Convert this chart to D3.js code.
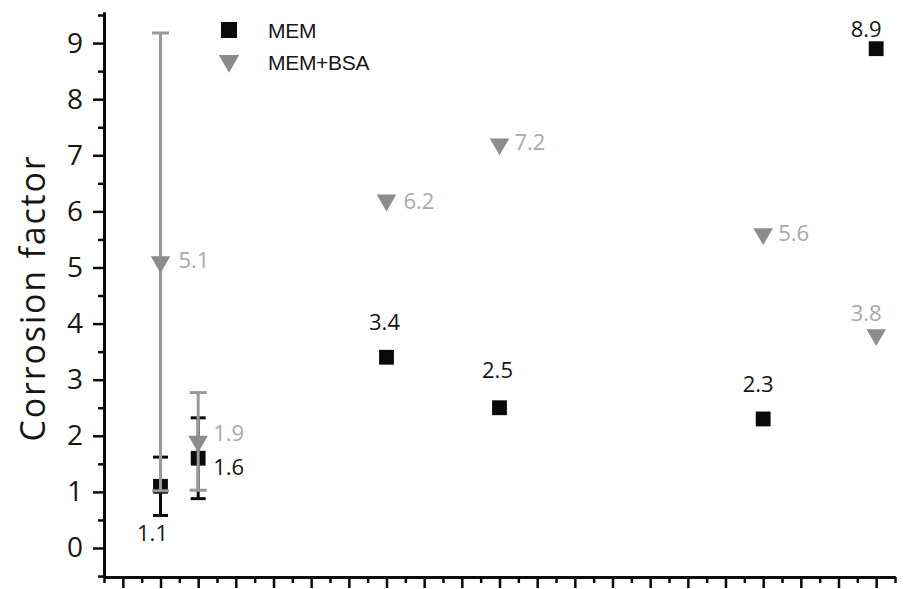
<!DOCTYPE html>
<html>
<head>
<meta charset="utf-8">
<script src="https://cdn.jsdelivr.net/npm/d3@7"></script>
<style>
  html, body { margin: 0; padding: 0; background: #fff; }
  svg { display: block; }
</style>
</head>
<body>
<svg id="chart" width="911" height="589"></svg>
<script>
// Sample positions along the (unlabelled) x axis
const xPositions = [1, 2, 7, 10, 17, 20];

// Corrosion factor per sample
const memValues = [1.1, 1.6, 3.4, 2.5, 2.3, 8.9];
const memErrors = [0.52, 0.72, 0, 0, 0, 0];
const bsaValues = [5.1, 1.9, 6.2, 7.2, 5.6, 3.8];
const bsaErrors = [4.08, 0.87, 0, 0, 0, 0];

const yTickValues = [0, 1, 2, 3, 4, 5, 6, 7, 8, 9];
const seriesNames = ["MEM", "MEM+BSA"];
const yTitle = "Corrosion factor";

// Value-label placement (anchor + offset of the text centre from its marker, px)
const memLabelLayout = [
  { anchor: "middle", dx: -8, dy: 46 },
  { anchor: "start", dx: 15, dy: 8 },
  { anchor: "middle", dx: -2, dy: -36 },
  { anchor: "middle", dx: -2, dy: -39 },
  { anchor: "middle", dx: -5, dy: -36 },
  { anchor: "middle", dx: -10, dy: -21 }
];
const bsaLabelLayout = [
  { anchor: "start", dx: 18, dy: -3 },
  { anchor: "start", dx: 15, dy: -9 },
  { anchor: "start", dx: 17, dy: 0 },
  { anchor: "start", dx: 15, dy: -3 },
  { anchor: "start", dx: 15, dy: -2 },
  { anchor: "middle", dx: -10, dy: -23 }
];

const svg = d3.select("#chart");
const plotLeft = 104, plotRight = 895, plotTop = 12, plotBottom = 577;

const x = d3.scaleLinear().domain([-0.5, 20.5]).range([plotLeft, plotRight]);
const y = d3.scaleLinear().domain([-0.517, 9.554]).range([plotBottom, plotTop]);

const black = "#0a0a0a";
const grey = "#8c8c8c";
const greyLine = "#9a9a9a";
const greyText = "#a9a9a9";
const darkText = "#161616";

// ---- axes ----
const xMajor = d3.range(0, 21, 1);
const xMinor = d3.range(-0.5, 20.6, 1);
const yMinor = d3.range(-0.5, 9.6, 1);

function styleAxis(g) {
  g.select(".domain").attr("stroke", black).attr("stroke-width", 3);
  g.selectAll(".tick line").attr("stroke", black).attr("stroke-width", 2.5);
}

svg.append("g")
  .attr("transform", `translate(0,${plotBottom})`)
  .call(d3.axisBottom(x).tickValues(xMinor).tickSize(6).tickSizeOuter(0).tickFormat(""))
  .call(styleAxis);
svg.append("g")
  .attr("transform", `translate(0,${plotBottom})`)
  .call(d3.axisBottom(x).tickValues(xMajor).tickSize(11).tickSizeOuter(0).tickFormat(""))
  .call(styleAxis);

svg.append("g")
  .attr("transform", `translate(${plotLeft},0)`)
  .call(d3.axisLeft(y).tickValues(yMinor).tickSize(6).tickSizeOuter(0).tickFormat(""))
  .call(styleAxis);
const yAxis = svg.append("g")
  .attr("transform", `translate(${plotLeft},0)`)
  .call(d3.axisLeft(y).tickValues(yTickValues).tickSize(11).tickSizeOuter(0).tickPadding(10).tickFormat(d3.format("d")))
  .call(styleAxis);
yAxis.selectAll(".tick text")
  .attr("font-family", "'Open Sans', sans-serif")
  .attr("font-size", 28)
  .attr("fill", darkText);

svg.append("text")
  .attr("transform", `translate(45,298) rotate(-90)`)
  .attr("text-anchor", "middle")
  .attr("font-family", "'Open Sans', sans-serif")
  .attr("font-size", 34)
  .attr("letter-spacing", 1.8)
  .attr("fill", darkText)
  .text(yTitle);

// ---- series ----
const memData = xPositions.map((d, i) => ({ x: d, v: memValues[i], e: memErrors[i], lay: memLabelLayout[i] }));
const bsaData = xPositions.map((d, i) => ({ x: d, v: bsaValues[i], e: bsaErrors[i], lay: bsaLabelLayout[i] }));

function errorBars(data, color, capW) {
  const g = svg.append("g").attr("stroke", color).attr("stroke-width", 3);
  const withErr = data.filter(d => d.e > 0);
  g.selectAll(".stem").data(withErr).join("line")
    .attr("x1", d => x(d.x)).attr("x2", d => x(d.x))
    .attr("y1", d => y(d.v - d.e)).attr("y2", d => y(d.v + d.e));
  g.selectAll(".capTop").data(withErr).join("line")
    .attr("x1", d => x(d.x) - capW / 2).attr("x2", d => x(d.x) + capW / 2)
    .attr("y1", d => y(d.v + d.e)).attr("y2", d => y(d.v + d.e));
  g.selectAll(".capBot").data(withErr).join("line")
    .attr("x1", d => x(d.x) - capW / 2).attr("x2", d => x(d.x) + capW / 2)
    .attr("y1", d => y(d.v - d.e)).attr("y2", d => y(d.v - d.e));
}

function labels(data, color) {
  svg.append("g").selectAll("text").data(data).join("text")
    .attr("font-family", "'Open Sans', sans-serif")
    .attr("font-size", 22)
    .attr("fill", color)
    .attr("text-anchor", d => d.lay.anchor)
    .attr("dominant-baseline", "central")
    .attr("x", d => x(d.x) + d.lay.dx)
    .attr("y", d => y(d.v) + d.lay.dy)
    .text(d => d3.format(".1f")(d.v));
}

const squareSym = d3.symbol().type(d3.symbolSquare).size(220);
const triSym = d3.symbol().type(d3.symbolTriangle).size(165);

// MEM: black squares
errorBars(memData, black, 15);
svg.append("g").selectAll("path").data(memData).join("path")
  .attr("d", squareSym)
  .attr("transform", d => `translate(${x(d.x)},${y(d.v)})`)
  .attr("fill", black);
labels(memData, darkText);

// MEM+BSA: grey down-pointing triangles
errorBars(bsaData, greyLine, 17);
svg.append("g").selectAll("path").data(bsaData).join("path")
  .attr("d", triSym)
  .attr("transform", d => `translate(${x(d.x)},${y(d.v)}) rotate(180)`)
  .attr("fill", grey);
labels(bsaData, greyText);

// ---- legend ----
const legend = svg.append("g").attr("transform", "translate(229,0)");
legend.append("path").attr("d", d3.symbol().type(d3.symbolSquare).size(256))
  .attr("transform", "translate(0,30)").attr("fill", black);
legend.append("path").attr("d", d3.symbol().type(d3.symbolTriangle).size(180))
  .attr("transform", "translate(0,61) rotate(180)").attr("fill", grey);
legend.selectAll("text").data(seriesNames).join("text")
  .attr("x", 39)
  .attr("y", (d, i) => 38 + i * 32)
  .attr("font-family", "'Liberation Sans', Arial, sans-serif")
  .attr("font-size", 21)
  .attr("letter-spacing", -0.3)
  .attr("fill", darkText)
  .text(d => d);
</script>
</body>
</html>
